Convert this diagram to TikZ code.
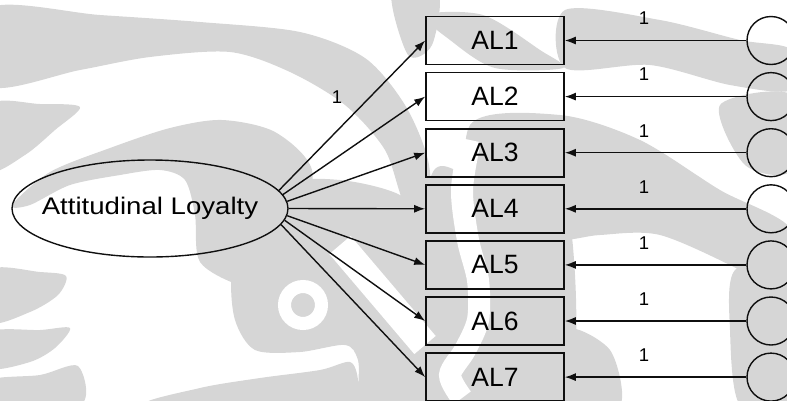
\documentclass[tikz,border=0pt]{standalone}
\usepackage{fontspec}
\setmainfont{Liberation Sans}
\newfontfamily\widefont[FakeStretch=1.15]{Liberation Sans}
\usetikzlibrary{shapes.geometric,arrows.meta}
\definecolor{wm}{RGB}{214,214,214}
\definecolor{ink}{RGB}{15,15,15}

\begin{document}
\begin{tikzpicture}[x=1pt,y=-1pt,
  ind/.style={draw=ink,line width=1.6pt,minimum width=138pt,minimum height=48pt,
    inner sep=0pt,font=\fontsize{26.5}{30}\selectfont},
  err/.style={draw=ink,line width=1.4pt,circle,minimum size=48pt,inner sep=0pt},
  lat/.style={draw=ink,line width=1.4pt,ellipse,minimum width=276pt,
    minimum height=97pt,inner sep=0pt},
  latlabel/.style={inner sep=0pt,font=\widefont\fontsize{24}{28}\selectfont},
  link/.style={draw=ink,line width=1.4pt,-{Latex[length=11pt,width=8pt]}},
  wt/.style={inner sep=0pt,font=\fontsize{18.5}{20}\selectfont},
  blob/.style={fill=wm,draw=none},
  gap/.style={draw=white,line width=#1}
]
\useasboundingbox (0,0) rectangle (787,400);

% ---- faint background emblem ----
\fill[blob] plot[smooth cycle] coordinates {(-10,8) (100,15) (200,22) (300,32) (365,58)
  (405,105) (428,160) (430,215) (405,205) (385,150) (345,105) (290,72) (230,52) (150,57)
  (80,70) (-10,86)};
\fill[blob] plot[smooth cycle] coordinates {(392,-8) (438,-8) (432,45) (408,55)};
\fill[blob] plot[smooth cycle] coordinates {(-10,105) (40,104) (80,107) (55,130) (25,155) (-10,170)};
\fill[blob] plot[smooth cycle] coordinates {(12,205) (50,172) (110,148) (170,128) (222,120)
  (275,132) (312,170) (300,235) (270,280) (240,285) (200,262) (195,215) (185,180)
  (160,170) (120,175) (70,185) (30,205)};
\fill[blob] plot[smooth cycle] coordinates {(283,185) (340,180) (400,195) (432,230)
  (432,402) (365,402) (358,360) (345,345) (300,352) (255,350) (235,320) (232,275) (250,240)};
\fill[blob] plot[smooth cycle] coordinates {(150,405) (200,388) (260,378) (320,370)
  (350,362) (358,380) (355,405)};
\fill[blob] plot[smooth cycle] coordinates {(-10,270) (40,272) (66,276) (58,295) (30,312) (-10,322)};
\fill[blob] plot[smooth cycle] coordinates {(-10,332) (40,330) (70,328) (55,348) (30,362) (-10,368)};
\fill[blob] plot[smooth cycle] coordinates {(-10,380) (40,375) (78,366) (80,405) (-10,405)};
\fill[blob] plot[smooth cycle] coordinates {(425,15) (483,15) (540,50) (563,68) (495,68) (450,40)};
\fill[blob] plot[smooth cycle] coordinates {(565,10) (660,20) (740,40) (792,50) (792,90)
  (730,85) (650,65) (565,68)};
\fill[blob] plot[smooth cycle] coordinates {(470,125) (560,115) (640,140) (720,190)
  (792,230) (792,300) (740,270) (660,235) (600,235) (560,240) (480,235)};
\fill[blob] plot[smooth cycle] coordinates {(720,105) (792,95) (792,170) (745,165)};
\fill[blob] plot[smooth cycle] coordinates {(735,270) (792,260) (792,405) (740,405) (730,330)};
\fill[blob] plot[smooth cycle] coordinates {(430,180) (480,180) (563,185) (566,405) (430,405)};
\fill[blob] plot[smooth cycle] coordinates {(565,330) (610,350) (620,405) (565,405)};
\draw[gap=13pt] (303,305) circle[radius=18.5];
\draw[gap=28pt] (340,245) -- (425,345);
\draw[gap=22pt] plot[smooth] coordinates {(470,140) (462,190) (468,240) (478,280)
  (478,320) (465,350) (450,375) (462,398)};

% ---- measurement model ----
\node[lat] (lat) at (150,208.5) {};
\node[latlabel] (latname) at (lat.center) {Attitudinal Loyalty};

\foreach \i/\y/\a in {1/40.5/8, 2/96.6/6.5, 3/152.7/3.5, 4/208.8/0,
                      5/264.9/-3, 6/321/-5.5, 7/377.1/-7.5} {
  \node[ind] (al\i) at (495,\y) {AL\i};
  \node[err] (e\i) at (771,\y) {};
  \draw[link] (e\i) -- (al\i);
  \node[wt] (w\i) at (644,\y-22) {1};
  \draw[link] (lat.\a) -- (al\i.west);
}
\node[wt] (w0) at (337,97) {1};
\end{tikzpicture}
\end{document}
